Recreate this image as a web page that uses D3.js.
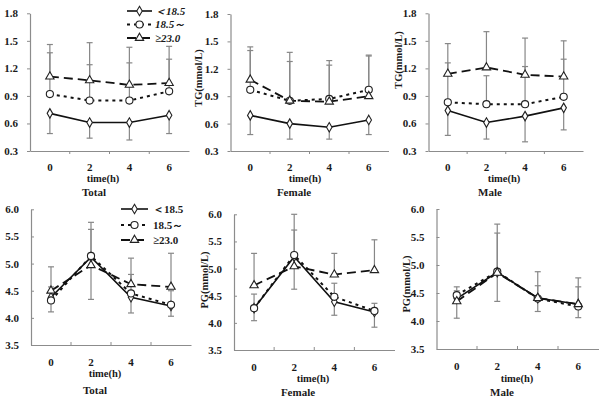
<!DOCTYPE html>
<html>
<head>
<meta charset="utf-8">
<script src="https://cdn.jsdelivr.net/npm/d3@7"></script>
<style>
  body { margin: 0; background: #fff; }
  svg text { font-family: "Liberation Serif", "Times New Roman", serif; font-weight: bold; fill: #1a1a1a; }
</style>
</head>
<body>
<div id="chart"></div>
<script>
// categories and series
const timeLabels = ["0", "2", "4", "6"];
const seriesNames = ["＜18.5", "18.5～", "≥23.0"];
const tgTicks = [0.3, 0.6, 0.9, 1.2, 1.5, 1.8];
const pgTicks = [3.5, 4.0, 4.5, 5.0, 5.5, 6.0];

// TG, total
const tgTotalLow = [0.71, 0.61, 0.61, 0.69];
const tgTotalLowSd = [0.22, 0.17, 0.19, 0.20];
const tgTotalMid = [0.92, 0.85, 0.85, 0.95];
const tgTotalMidSd = [0.45, 0.39, 0.41, 0.35];
const tgTotalHigh = [1.11, 1.07, 1.02, 1.04];
const tgTotalHighSd = [0.35, 0.41, 0.41, 0.40];

// TG, female
const tgFemaleLow = [0.69, 0.60, 0.56, 0.64];
const tgFemaleLowSd = [0.21, 0.17, 0.13, 0.16];
const tgFemaleMid = [0.97, 0.85, 0.87, 0.97];
const tgFemaleMidSd = [0.43, 0.53, 0.37, 0.37];
const tgFemaleHigh = [1.08, 0.85, 0.84, 0.90];
const tgFemaleHighSd = [0.36, 0.43, 0.45, 0.45];

// TG, male
const tgMaleLow = [0.74, 0.61, 0.68, 0.77];
const tgMaleLowSd = [0.27, 0.18, 0.28, 0.24];
const tgMaleMid = [0.83, 0.81, 0.81, 0.89];
const tgMaleMidSd = [0.43, 0.31, 0.41, 0.41];
const tgMaleHigh = [1.14, 1.21, 1.13, 1.11];
const tgMaleHighSd = [0.33, 0.39, 0.40, 0.39];

// PG, total
const pgTotalLow = [4.38, 5.12, 4.38, 4.22];
const pgTotalLowSd = [0.27, 0.78, 0.29, 0.19];
const pgTotalMid = [4.32, 5.14, 4.45, 4.24];
const pgTotalMidSd = [0.25, 0.62, 0.35, 0.26];
const pgTotalHigh = [4.50, 4.97, 4.62, 4.57];
const pgTotalHighSd = [0.44, 0.66, 0.48, 0.62];

// PG, female
const pgFemaleLow = [4.27, 5.22, 4.39, 4.20];
const pgFemaleLowSd = [0.23, 0.60, 0.25, 0.28];
const pgFemaleMid = [4.27, 5.25, 4.48, 4.22];
const pgFemaleMidSd = [0.26, 0.75, 0.25, 0.14];
const pgFemaleHigh = [4.69, 5.04, 4.89, 4.97];
const pgFemaleHighSd = [0.59, 0.67, 0.39, 0.56];

// PG, male
const pgMaleLow = [4.40, 4.87, 4.41, 4.30];
const pgMaleLowSd = [0.35, 0.52, 0.24, 0.24];
const pgMaleMid = [4.46, 4.88, 4.40, 4.26];
const pgMaleMidSd = [0.15, 0.69, 0.23, 0.35];
const pgMaleHigh = [4.35, 4.86, 4.41, 4.30];
const pgMaleHighSd = [0.19, 0.87, 0.47, 0.47];

// series styles: low = solid/diamond (error down), mid = dotted/circle (up), high = dashed/triangle (up)
const styles = [
  { dash: null, width: 1.6, symbol: d3.symbolDiamond, size: 26, dir: -1 },
  { dash: "3,4", width: 2, symbol: d3.symbolCircle, size: 40, dir: 1 },
  { dash: "9,5", width: 1.8, symbol: d3.symbolTriangle, size: 30, dir: 1 }
];

const panels = [
  { title: "Total", ticks: tgTicks, ylabel: null, x0: 30, x1: 189, yTop: 13.3, yBot: 151, inside: false,
    means: [tgTotalLow, tgTotalMid, tgTotalHigh], sds: [tgTotalLowSd, tgTotalMidSd, tgTotalHighSd],
    timeX: 103, timeY: 182, titleX: 94, titleY: 196 },
  { title: "Female", ticks: tgTicks, ylabel: "TG(mmol/L)", x0: 230.5, x1: 388.5, yTop: 14, yBot: 151, inside: false,
    means: [tgFemaleLow, tgFemaleMid, tgFemaleHigh], sds: [tgFemaleLowSd, tgFemaleMidSd, tgFemaleHighSd],
    timeX: 305, timeY: 182, titleX: 294, titleY: 196, labX: 198, labY: 78 },
  { title: "Male", ticks: tgTicks, ylabel: "TG(mmol/L)", x0: 428.5, x1: 583, yTop: 13.3, yBot: 151, inside: false,
    means: [tgMaleLow, tgMaleMid, tgMaleHigh], sds: [tgMaleLowSd, tgMaleMidSd, tgMaleHighSd],
    timeX: 504, timeY: 182, titleX: 490, titleY: 196, labX: 398, labY: 60 },
  { title: "Total", ticks: pgTicks, ylabel: null, x0: 31, x1: 191, yTop: 209.3, yBot: 345, inside: true,
    means: [pgTotalLow, pgTotalMid, pgTotalHigh], sds: [pgTotalLowSd, pgTotalMidSd, pgTotalHighSd],
    timeX: 105, timeY: 377, titleX: 95, titleY: 394 },
  { title: "Female", ticks: pgTicks, ylabel: "PG(mmol/L)", x0: 234, x1: 394.5, yTop: 214.3, yBot: 350, inside: true,
    means: [pgFemaleLow, pgFemaleMid, pgFemaleHigh], sds: [pgFemaleLowSd, pgFemaleMidSd, pgFemaleHighSd],
    timeX: 313, timeY: 382, titleX: 298, titleY: 396, labX: 204, labY: 280 },
  { title: "Male", ticks: pgTicks, ylabel: "PG(mmol/L)", x0: 436.5, x1: 598.5, yTop: 209, yBot: 349, inside: true,
    means: [pgMaleLow, pgMaleMid, pgMaleHigh], sds: [pgMaleLowSd, pgMaleMidSd, pgMaleHighSd],
    timeX: 517, timeY: 382, titleX: 502, titleY: 396, labX: 406, labY: 284 }
];

const legends = [
  { lx0: 127, lx1: 152, tx: 155, ys: [11, 24.5, 38], italic: true },
  { lx0: 121, lx1: 148, tx: 153, ys: [209, 225, 240], italic: false }
];

const svg = d3.select("#chart").append("svg")
  .attr("width", 600).attr("height", 399);

const axisColor = "#8c8c8c";
const lineColor = "#111";
const errColor = "#878787";

panels.forEach(p => {
  const g = svg.append("g");

  const x = d3.scaleBand().domain(timeLabels).range([p.x0, p.x1]);
  const y = d3.scaleLinear().domain([p.ticks[0], p.ticks[p.ticks.length - 1]]).range([p.yBot, p.yTop]);
  const cx = d => x(d) + x.bandwidth() / 2;
  const tick = p.inside ? -3 : 3;

  // y axis
  const yAxis = g.append("g")
    .attr("transform", `translate(${p.x0},0)`)
    .call(d3.axisLeft(y).tickValues(p.ticks).tickFormat(d3.format(".1f"))
      .tickSizeInner(tick).tickSizeOuter(0).tickPadding(p.inside ? 12 : 9));
  yAxis.select(".domain").attr("stroke", axisColor).attr("stroke-width", 1.2);
  yAxis.selectAll(".tick line").attr("stroke", axisColor);
  yAxis.selectAll(".tick text").style("font-size", "11px").style("font-family", null);

  // x axis: labels at category centres, tick marks between categories
  const xAxis = g.append("g")
    .attr("transform", `translate(0,${p.yBot})`)
    .call(d3.axisBottom(x).tickSize(0).tickPadding(p.inside ? 13 : 12));
  xAxis.select(".domain").attr("stroke", axisColor).attr("stroke-width", 1.2);
  xAxis.selectAll(".tick text").style("font-size", "11px").style("font-family", null);
  g.selectAll(".xsep")
    .data(timeLabels.slice(1))
    .join("line")
    .attr("x1", d => x(d)).attr("x2", d => x(d))
    .attr("y1", p.yBot).attr("y2", p.yBot + tick)
    .attr("stroke", axisColor);

  // axis captions
  g.append("text").attr("x", p.timeX).attr("y", p.timeY)
    .attr("text-anchor", "middle").style("font-size", "10.5px").text("time(h)");
  g.append("text").attr("x", p.titleX).attr("y", p.titleY)
    .attr("text-anchor", "middle").style("font-size", "11px").text(p.title);
  if (p.ylabel) {
    g.append("text")
      .attr("transform", `translate(${p.labX},${p.labY}) rotate(-90)`)
      .attr("text-anchor", "middle").attr("dy", "0.35em")
      .style("font-size", "10.5px").text(p.ylabel);
  }

  // error bars (one-sided)
  p.means.forEach((vals, si) => {
    const st = styles[si];
    const sd = p.sds[si];
    const eb = g.append("g").attr("stroke", errColor).attr("stroke-width", 1.2);
    eb.selectAll("line.v")
      .data(vals)
      .join("line")
      .attr("x1", (d, i) => cx(timeLabels[i])).attr("x2", (d, i) => cx(timeLabels[i]))
      .attr("y1", d => y(d))
      .attr("y2", (d, i) => y(d + st.dir * sd[i]));
    eb.selectAll("line.c")
      .data(vals)
      .join("line")
      .attr("x1", (d, i) => cx(timeLabels[i]) - 3).attr("x2", (d, i) => cx(timeLabels[i]) + 3)
      .attr("y1", (d, i) => y(d + st.dir * sd[i]))
      .attr("y2", (d, i) => y(d + st.dir * sd[i]));
  });

  // lines
  p.means.forEach((vals, si) => {
    const st = styles[si];
    const line = d3.line().x((d, i) => cx(timeLabels[i])).y(d => y(d));
    g.append("path").datum(vals)
      .attr("d", line)
      .attr("fill", "none")
      .attr("stroke", lineColor)
      .attr("stroke-width", st.width)
      .attr("stroke-dasharray", st.dash);
  });

  // markers
  p.means.forEach((vals, si) => {
    const st = styles[si];
    g.selectAll(null)
      .data(vals)
      .join("path")
      .attr("d", d3.symbol().type(st.symbol).size(st.size))
      .attr("transform", (d, i) => `translate(${cx(timeLabels[i])},${y(d)})`)
      .attr("fill", "#fff")
      .attr("stroke", "#222")
      .attr("stroke-width", 1.1);
  });
});

// legends
legends.forEach(lg => {
  const g = svg.append("g");
  seriesNames.forEach((name, si) => {
    const st = styles[si];
    const yy = lg.ys[si];
    g.append("line")
      .attr("x1", lg.lx0).attr("x2", lg.lx1)
      .attr("y1", yy).attr("y2", yy)
      .attr("stroke", lineColor)
      .attr("stroke-width", st.width)
      .attr("stroke-dasharray", st.dash);
    g.append("path")
      .attr("d", d3.symbol().type(st.symbol).size(st.size)())
      .attr("transform", `translate(${(lg.lx0 + lg.lx1) / 2},${yy})`)
      .attr("fill", "#fff").attr("stroke", "#222").attr("stroke-width", 1.1);
    g.append("text")
      .attr("x", lg.tx).attr("y", yy).attr("dy", "0.35em")
      .style("font-size", "11px")
      .style("font-style", lg.italic ? "italic" : "normal")
      .text(name);
  });
});
</script>
</body>
</html>
